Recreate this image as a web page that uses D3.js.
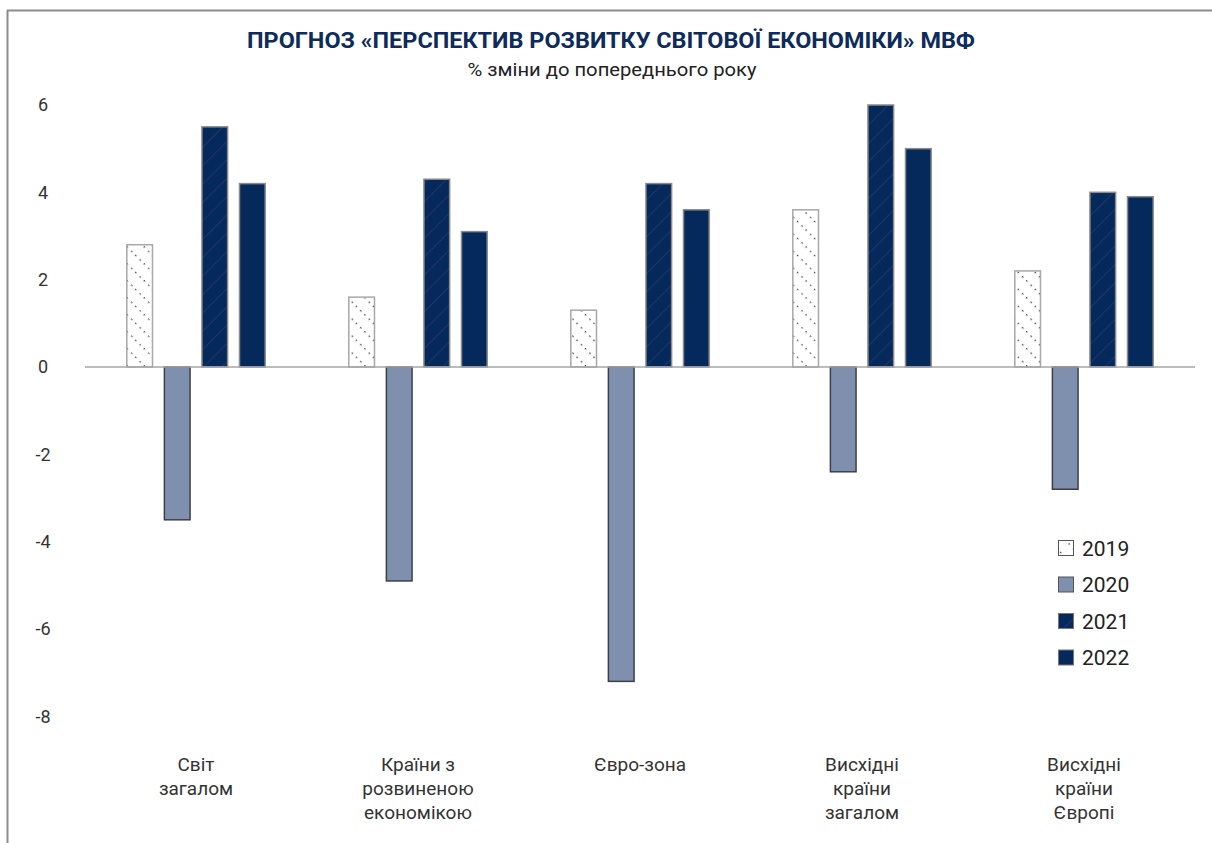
<!DOCTYPE html>
<html><head><meta charset="utf-8">
<script src="https://cdn.jsdelivr.net/npm/d3@7"></script>
<style>body{margin:0;background:#fff;}svg{display:block;font-family:Roboto, "Noto Sans", sans-serif;}</style>
</head><body><svg id="c" width="1212" height="843"></svg>
<script>
const categories = [["Світ","загалом"],["Країни з","розвиненою","економікою"],["Євро-зона"],["Висхідні","країни","загалом"],["Висхідні","країни","Європі"]];
const years = ["2019","2020","2021","2022"];
const v2019 = [2.8, 1.6, 1.3, 3.6, 2.2];
const v2020 = [-3.5, -4.9, -7.2, -2.4, -2.8];
const v2021 = [5.5, 4.3, 4.2, 6.0, 4.0];
const v2022 = [4.2, 3.1, 3.6, 5.0, 3.9];
const yTicks = [6,4,2,0,-2,-4,-6,-8];
const series = [v2019, v2020, v2021, v2022];

const svg = d3.select("#c");
const defs = svg.append("defs");
// dotted pattern for 2019
const p1 = defs.append("pattern").attr("id","dots").attr("patternUnits","userSpaceOnUse")
  .attr("width",12).attr("height",12).attr("patternTransform","rotate(45)");
p1.append("rect").attr("width",12).attr("height",12).attr("fill","#fff");
p1.append("line").attr("x1",0).attr("y1",0).attr("x2",12).attr("y2",0)
  .attr("stroke","#222").attr("stroke-width",2.4).attr("stroke-dasharray","1.3 5");
// hatched navy pattern for 2021
const p2 = defs.append("pattern").attr("id","hatch").attr("patternUnits","userSpaceOnUse")
  .attr("width",13).attr("height",13).attr("patternTransform","rotate(-45)");
p2.append("rect").attr("width",13).attr("height",13).attr("fill","#06295b");
p2.append("line").attr("x1",0).attr("y1",0).attr("x2",13).attr("y2",0)
  .attr("stroke","#2f3d70").attr("stroke-width",1.2);

const fills = ["url(#dots)","#7f90af","url(#hatch)","#06295b"];
const strokes = ["#a8a8a8","#3b3f49","#8a8a8a","#8a8a8a"];
const legendFills = ["url(#dots)","#7f90af","url(#hatch)","#06295b"];

// frame
svg.append("line").attr("x1",7.5).attr("x2",7.5).attr("y1",10).attr("y2",843).attr("stroke","#8c8c8c").attr("stroke-width",2);
svg.append("line").attr("x1",7).attr("x2",1212).attr("y1",10.5).attr("y2",10.5).attr("stroke","#8c8c8c").attr("stroke-width",2);

const y = d3.scaleLinear().domain([-8,6]).range([716.3,105]);
const x0 = d3.scaleBand().domain(d3.range(categories.length)).range([85,1195]);
const x1 = d3.scaleBand().domain(d3.range(years.length)).range([0,x0.bandwidth()]).paddingInner(0.29).paddingOuter(1.1);

// title
svg.append("text").attr("x",611).attr("y",48).attr("text-anchor","middle")
  .attr("font-size",22).attr("font-weight",700).attr("fill","#0d2b5b")
  .attr("textLength",728).attr("lengthAdjust","spacingAndGlyphs")
  .text("ПРОГНОЗ «ПЕРСПЕКТИВ РОЗВИТКУ СВІТОВОЇ ЕКОНОМІКИ» МВФ");
svg.append("text").attr("x",612).attr("y",76).attr("text-anchor","middle")
  .attr("font-size",18).attr("fill","#222")
  .attr("textLength",289).attr("lengthAdjust","spacingAndGlyphs")
  .text("% зміни до попереднього року");

// y tick labels
svg.append("g").selectAll("text").data(yTicks).join("text")
  .attr("x",43).attr("y",d=>y(d)).attr("dy","0.35em").attr("text-anchor","middle")
  .attr("font-size",18).attr("fill","#333").text(d=>d);

// bars
const g = svg.append("g");
series.forEach((vals,si)=>{
  g.selectAll(null).data(vals).join("rect")
    .attr("x",(d,i)=>x0(i)+x1(si)+0.5)
    .attr("y",d=>y(Math.max(0,d)))
    .attr("width",x1.bandwidth()-1)
    .attr("height",d=>Math.abs(y(d)-y(0)))
    .attr("fill",fills[si]).attr("stroke",strokes[si]).attr("stroke-width",1.5);
});

// zero line
svg.append("line").attr("x1",85).attr("x2",1195).attr("y1",y(0)).attr("y2",y(0))
  .attr("stroke","#a6a6a6").attr("stroke-width",1.5);

// category labels
categories.forEach((lines,i)=>{
  const t = svg.append("text").attr("x",x0(i)+x0.bandwidth()/2).attr("y",771)
    .attr("text-anchor","middle").attr("font-size",19).attr("fill","#333");
  lines.forEach((l,j)=>t.append("tspan").attr("x",x0(i)+x0.bandwidth()/2).attr("dy",j?24:0).text(l));
});

// legend
const lg = svg.append("g");
years.forEach((yr,i)=>{
  const cy = 548 + i*36.5;
  lg.append("rect").attr("x",1058.5).attr("y",cy-7.5).attr("width",15).attr("height",15)
    .attr("fill",legendFills[i]).attr("stroke",i<2?"#555":"#777").attr("stroke-width",1);
  lg.append("text").attr("x",1082).attr("y",cy).attr("dy","0.36em")
    .attr("font-size",21).attr("fill","#222").text(yr);
});
</script></body></html>
